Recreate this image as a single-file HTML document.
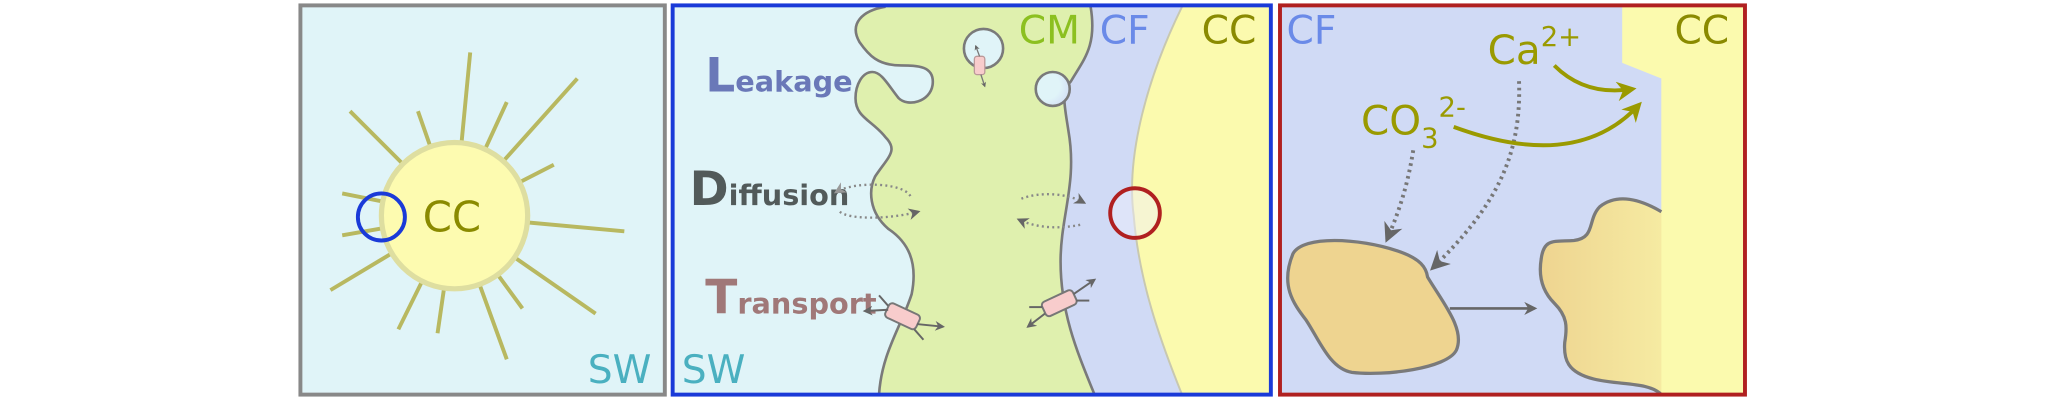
<!DOCTYPE html>
<html><head><meta charset="utf-8"><style>html,body{margin:0;padding:0;background:#fff}svg{display:block}</style></head>
<body>
<svg width="2048" height="400" viewBox="0 0 1568 306" xmlns="http://www.w3.org/2000/svg" font-family="'DejaVu Sans','Liberation Sans',sans-serif">
<defs>
<marker id="ag" viewBox="0 0 10 10" refX="8" refY="5" markerWidth="5" markerHeight="5" orient="auto"><path d="M0,0 L10,5 L0,10 L3,5 Z" fill="#666"/></marker>
<marker id="agl" viewBox="0 0 10 10" refX="8" refY="5" markerWidth="5" markerHeight="5" orient="auto"><path d="M0,0 L10,5 L0,10 L3,5 Z" fill="#999"/></marker>
<marker id="ao" viewBox="0 0 10 10" refX="8" refY="5" markerWidth="5" markerHeight="5" orient="auto"><path d="M0,0 L10,5 L0,10 L3,5 Z" fill="#9a9a00"/></marker>
<marker id="as" viewBox="0 0 10 10" refX="8" refY="5" markerWidth="4" markerHeight="4" orient="auto"><path d="M0,0 L10,5 L0,10 L3,5 Z" fill="#666"/></marker>
<linearGradient id="gb" x1="0" x2="1" y1="0" y2="0"><stop offset="0" stop-color="#eed490"/><stop offset="1" stop-color="#fbfaae"/></linearGradient>
<radialGradient id="bub" cx="0.3" cy="0.4" r="0.8"><stop offset="0.5" stop-color="#e0f4f8"/><stop offset="1" stop-color="#d0daf5"/></radialGradient>
</defs>

<!-- Panel 1 -->
<rect x="230" y="4" width="279" height="298" fill="#e0f4f8" stroke="#888" stroke-width="3"/>
<g stroke="#b8b860" stroke-width="3" stroke-linecap="butt">
<line x1="348" y1="165" x2="360" y2="40"/>
<line x1="348" y1="165" x2="268" y2="85"/>
<line x1="348" y1="165" x2="320" y2="85"/>
<line x1="348" y1="165" x2="388" y2="78"/>
<line x1="348" y1="165" x2="442" y2="60"/>
<line x1="348" y1="165" x2="424" y2="126"/>
<line x1="348" y1="165" x2="478" y2="177"/>
<line x1="348" y1="165" x2="456" y2="240"/>
<line x1="348" y1="165" x2="400" y2="236"/>
<line x1="348" y1="165" x2="388" y2="275"/>
<line x1="348" y1="165" x2="335" y2="255"/>
<line x1="348" y1="165" x2="305" y2="252"/>
<line x1="348" y1="165" x2="253" y2="222"/>
<line x1="348" y1="165" x2="262" y2="180"/>
<line x1="348" y1="165" x2="262" y2="148"/>
</g>
<circle cx="348" cy="165" r="56" fill="#fdfbb0" stroke="#dedea0" stroke-width="4"/>
<text x="346" y="177" font-size="32" fill="#8a8a00" text-anchor="middle">CC</text>
<circle cx="292" cy="166" r="18" fill="none" stroke="#1a3ad8" stroke-width="3"/>
<text x="450" y="293" font-size="30" fill="#4ab0c0">SW</text>

<!-- Panel 2 -->
<rect x="515" y="4" width="458" height="298" fill="#e0f4f8"/>
<path d="M905,5 C878,60 862,120 868,165 C872,215 888,260 905,302 L973,302 L973,5 Z" fill="#fbfaae"/>
<path d="M835,5 L905,5 C878,60 862,120 868,165 C872,215 888,260 905,302 L838,302 C825,270 812,240 812,200 C812,165 825,140 818,100 C815,80 812,70 820,62 C830,45 840,35 835,5 Z" fill="#d0daf5"/>
<path d="M905,5 C878,60 862,120 868,165 C872,215 888,260 905,302" fill="none" stroke="#c8c8b0" stroke-width="1.5"/>
<path d="M678,5 L835,5 C840,35 830,45 820,62 C812,70 815,80 818,100 C825,140 812,165 812,200 C812,240 825,270 838,302 L673,302 C675,270 690,250 698,225 C703,200 695,185 680,175 C665,162 665,145 670,135 C680,120 688,115 678,105 C668,92 655,90 655,75 C655,65 660,55 668,55 C675,55 680,65 688,75 C695,82 712,78 714,65 C716,50 702,50 690,50 C672,50 665,42 658,32 C650,18 660,8 678,5 Z" fill="#dff0ae"/>
<path d="M678,5 C660,8 650,18 658,32 C665,42 672,50 690,50 C702,50 716,50 714,65 C712,78 695,82 688,75 C680,65 675,55 668,55 C660,55 655,65 655,75 C655,90 668,92 678,105 C688,115 680,120 670,135 C665,145 665,162 680,175 C695,185 703,200 698,225 C690,250 675,270 673,302" fill="none" stroke="#7a7a7a" stroke-width="2"/>
<path d="M835,5 C840,35 830,45 820,62 C812,70 815,80 818,100 C825,140 812,165 812,200 C812,240 825,270 838,302" fill="none" stroke="#7a7a7a" stroke-width="2"/>
<circle cx="753" cy="37" r="15" fill="#e0f4f8" stroke="#7a7a7a" stroke-width="2"/>
<circle cx="806" cy="68" r="13" fill="url(#bub)" stroke="#7a7a7a" stroke-width="2"/>
<rect x="746" y="43" width="8" height="14" rx="2" fill="#f8cccc" stroke="#b99" stroke-width="1"/>
<line x1="750" y1="43" x2="747" y2="35" stroke="#777" stroke-width="1" marker-end="url(#as)"/>
<line x1="751" y1="57" x2="754" y2="66" stroke="#777" stroke-width="1" marker-end="url(#as)"/>
<text x="780" y="33" font-size="30" fill="#8cc020">CM</text>
<text x="842" y="33" font-size="30" fill="#6a8ae8">CF</text>
<text x="920" y="33" font-size="30" fill="#8a8a00">CC</text>
<text x="540" y="70" font-weight="bold" fill="#6a78b8"><tspan font-size="36">L</tspan><tspan font-size="22">eakage</tspan></text>
<text x="528" y="157" font-weight="bold" fill="#525a5a"><tspan font-size="36">D</tspan><tspan font-size="22">iffusion</tspan></text>
<text x="540" y="240" font-weight="bold" fill="#a07878"><tspan font-size="36">T</tspan><tspan font-size="22">ransport</tspan></text>
<g fill="none" stroke="#888" stroke-width="1.8" stroke-dasharray="1.5,2.5">
<path d="M697,150 C692,140 655,138 640,147" marker-end="url(#agl)"/>
<path d="M643,162 C650,168 680,168 703,162" marker-end="url(#ag)"/>
<path d="M782,152 C795,147 815,147 830,155" marker-end="url(#ag)"/>
<path d="M827,172 C812,175 795,175 780,168" marker-end="url(#ag)"/>
</g>
<circle cx="869" cy="163" r="19" fill="rgba(240,240,255,0.45)" stroke="#b02020" stroke-width="3"/>
<g transform="translate(691,242) rotate(25)">
<rect x="-13" y="-6" width="26" height="12" rx="3" fill="#f8cccc" stroke="#777" stroke-width="1.5"/>
</g>
<line x1="680" y1="237" x2="662" y2="238" stroke="#666" stroke-width="1.5" marker-end="url(#ag)"/>
<line x1="702" y1="248" x2="722" y2="250" stroke="#666" stroke-width="1.5" marker-end="url(#ag)"/>
<line x1="680" y1="234" x2="673" y2="226" stroke="#666" stroke-width="1.5"/>
<line x1="700" y1="252" x2="707" y2="260" stroke="#666" stroke-width="1.5"/>
<g transform="translate(811,232) rotate(-25)">
<rect x="-13" y="-6" width="26" height="12" rx="3" fill="#f8cccc" stroke="#777" stroke-width="1.5"/>
</g>
<line x1="822" y1="225" x2="838" y2="214" stroke="#666" stroke-width="1.5" marker-end="url(#ag)"/>
<line x1="800" y1="240" x2="787" y2="250" stroke="#666" stroke-width="1.5" marker-end="url(#ag)"/>
<line x1="798" y1="235" x2="788" y2="235" stroke="#666" stroke-width="1.5"/>
<line x1="824" y1="230" x2="834" y2="230" stroke="#666" stroke-width="1.5"/>
<text x="522" y="293" font-size="30" fill="#4ab0c0">SW</text>
<rect x="515" y="4" width="458" height="298" fill="none" stroke="#1a3ad8" stroke-width="3"/>

<!-- Panel 3 -->
<rect x="980" y="4" width="356" height="298" fill="#d0daf5"/>
<path d="M1242,5 L1336,5 L1336,302 L1272,302 L1272,60 L1242,48 Z" fill="#fbfaae"/>
<path d="M1272,162 C1255,152 1238,148 1225,158 C1215,168 1222,182 1205,184 C1190,185 1182,182 1180,198 C1178,210 1180,222 1190,232 C1200,242 1200,250 1198,262 C1197,275 1200,285 1220,290 C1240,295 1262,292 1272,302 L1336,302 L1336,160 Z" fill="url(#gb)"/>
<rect x="1272" y="60" width="64" height="242" fill="#fbfaae"/>
<path d="M1272,162 C1255,152 1238,148 1225,158 C1215,168 1222,182 1205,184 C1190,185 1182,182 1180,198 C1178,210 1180,222 1190,232 C1200,242 1200,250 1198,262 C1197,275 1200,285 1220,290 C1240,295 1262,292 1272,302" fill="none" stroke="#7a7a7a" stroke-width="2.5"/>
<path d="M990,194 C998,180 1040,182 1070,192 C1088,198 1092,205 1093,212 C1105,232 1122,252 1115,268 C1108,282 1060,288 1035,285 C1018,282 1010,260 1000,245 C990,232 980,218 990,194 Z" fill="#eed490" stroke="#7a7a7a" stroke-width="2.5"/>
<line x1="1110" y1="236" x2="1175" y2="236" stroke="#666" stroke-width="2" marker-end="url(#ag)"/>
<g fill="none" stroke="#777" stroke-width="3" stroke-dasharray="2,3">
<path d="M1082,115 C1078,140 1072,160 1062,183" marker-end="url(#ag)"/>
<path d="M1163,62 C1165,120 1145,158 1097,205" marker-end="url(#ag)"/>
</g>
<g fill="none" stroke="#9a9a00" stroke-width="3">
<path d="M1190,50 C1205,65 1225,72 1250,68" marker-end="url(#ao)"/>
<path d="M1113,97 C1170,118 1220,118 1255,80" marker-end="url(#ao)"/>
</g>
<text x="1139" y="49" font-size="31" fill="#9a9a00">Ca<tspan font-size="21" dy="-14">2+</tspan></text>
<text x="1042" y="103" font-size="31" fill="#9a9a00">CO<tspan font-size="21" dy="10">3</tspan><tspan font-size="21" dy="-24">2-</tspan></text>
<text x="985" y="33" font-size="30" fill="#6a8ae8">CF</text>
<text x="1282" y="33" font-size="30" fill="#8a8a00">CC</text>
<rect x="980" y="4" width="356" height="298" fill="none" stroke="#b02020" stroke-width="3"/>
</svg>
</body></html>
